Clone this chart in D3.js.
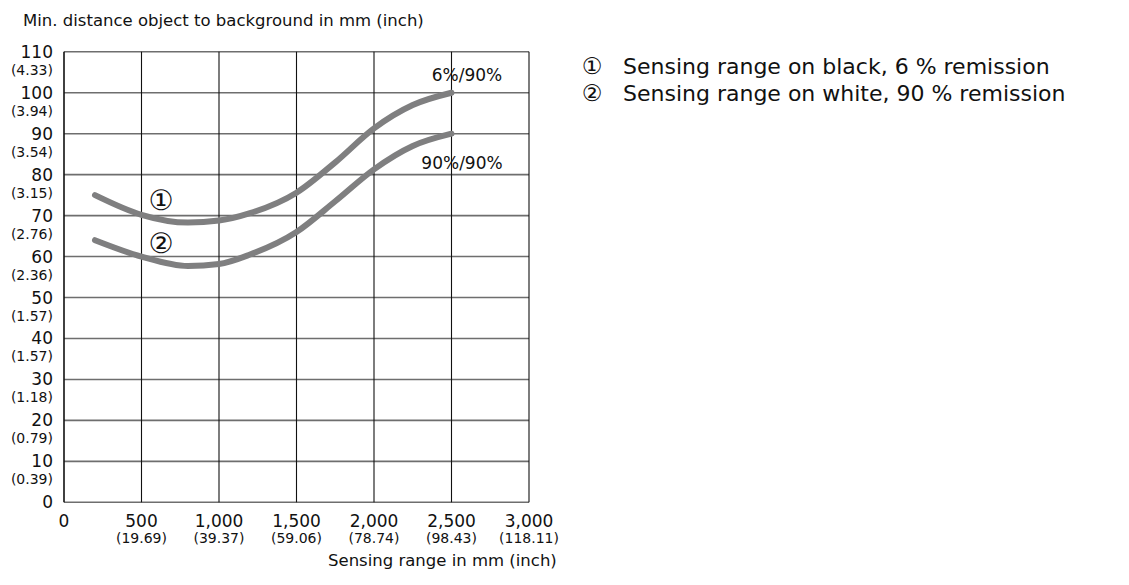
<!DOCTYPE html>
<html lang="en">
<head>
<meta charset="UTF-8">
<title>Min. distance object to background</title>
<script src="https://d3js.org/d3.v7.min.js"></script>
<style>
  body { margin: 0; background: #fff; }
  svg { display: block; font-family: 'DejaVu Sans', sans-serif; }
</style>
</head>
<body>
<div id="chart"></div>
<script>
// Data
const xTicks = [0, 500, 1000, 1500, 2000, 2500, 3000];
const xTickLabels = ["0", "500", "1,000", "1,500", "2,000", "2,500", "3,000"];
const xInchLabels = ["", "(19.69)", "(39.37)", "(59.06)", "(78.74)", "(98.43)", "(118.11)"];

const yTicks = [0, 10, 20, 30, 40, 50, 60, 70, 80, 90, 100, 110];
const yInchLabels = ["", "(0.39)", "(0.79)", "(1.18)", "(1.57)", "(1.57)", "(2.36)", "(2.76)", "(3.15)", "(3.54)", "(3.94)", "(4.33)"];

const rangeMm = [200, 500, 800, 1000, 1200, 1500, 1750, 2000, 2250, 2500];
const blackValues = [75, 70.2, 68.3, 68.8, 70.6, 75.6, 83, 91.3, 97, 100];   // 6 % remission
const whiteValues = [64, 60, 57.7, 58.2, 60.5, 66, 73.5, 81.3, 87, 90];     // 90 % remission

const legendItems = ["Sensing range on black, 6 % remission", "Sensing range on white, 90 % remission"];
const circled = ["\u2460", "\u2461"];

const width = 1129, height = 585;

const svg = d3.select("#chart").append("svg")
    .attr("width", width)
    .attr("height", height);

const x = d3.scaleLinear().domain([0, 3000]).range([64, 529]);
const y = d3.scaleLinear().domain([0, 110]).range([502.3, 51.8]);

// horizontal grid (gray)
svg.append("g").selectAll("line")
    .data(yTicks)
    .join("line")
    .attr("x1", x(0)).attr("x2", x(3000))
    .attr("y1", d => y(d)).attr("y2", d => y(d))
    .attr("stroke", "#6e6e6e")
    .attr("stroke-width", 1.6);

// vertical grid (black)
svg.append("g").selectAll("line")
    .data(xTicks)
    .join("line")
    .attr("x1", d => x(d)).attr("x2", d => x(d))
    .attr("y1", y(0)).attr("y2", y(110))
    .attr("stroke", "#111")
    .attr("stroke-width", d => d === 0 ? 1.6 : 1.1);

// y tick labels
const yLab = svg.append("g").attr("fill", "#111");
yLab.selectAll("text.num")
    .data(yTicks)
    .join("text")
    .attr("class", "num")
    .attr("x", 53)
    .attr("y", d => y(d) + 6)
    .attr("text-anchor", "end")
    .style("font-size", "17px")
    .text(d => d);
yLab.selectAll("text.inch")
    .data(yTicks)
    .join("text")
    .attr("class", "inch")
    .attr("x", 53)
    .attr("y", d => y(d) + 23)
    .attr("text-anchor", "end")
    .style("font-size", "14px")
    .text((d, i) => yInchLabels[i]);

// x tick labels
const xLab = svg.append("g").attr("fill", "#111");
xLab.selectAll("text.num")
    .data(xTicks)
    .join("text")
    .attr("class", "num")
    .attr("x", d => x(d))
    .attr("y", 527)
    .attr("text-anchor", "middle")
    .style("font-size", "17px")
    .text((d, i) => xTickLabels[i]);
xLab.selectAll("text.inch")
    .data(xTicks)
    .join("text")
    .attr("class", "inch")
    .attr("x", d => x(d))
    .attr("y", 543)
    .attr("text-anchor", "middle")
    .style("font-size", "14px")
    .text((d, i) => xInchLabels[i]);

// axis titles
svg.append("text")
    .attr("x", 23).attr("y", 26)
    .style("font-size", "16.5px")
    .attr("fill", "#111")
    .text("Min. distance object to background in mm (inch)");
svg.append("text")
    .attr("x", 328).attr("y", 566)
    .style("font-size", "16.5px")
    .attr("fill", "#111")
    .text("Sensing range in mm (inch)");

// curves
const line = d3.line()
    .x(d => x(d[0]))
    .y(d => y(d[1]))
    .curve(d3.curveMonotoneX);

const series = [blackValues, whiteValues];
svg.append("g").selectAll("path")
    .data(series)
    .join("path")
    .attr("d", vals => line(rangeMm.map((r, i) => [r, vals[i]])))
    .attr("fill", "none")
    .attr("stroke", "#7f7f80")
    .attr("stroke-width", 6)
    .attr("stroke-linecap", "round");

// curve end labels
svg.append("text")
    .attr("x", 467).attr("y", 81)
    .attr("text-anchor", "middle")
    .style("font-size", "17px")
    .attr("fill", "#111")
    .text("6%/90%");
svg.append("text")
    .attr("x", 462).attr("y", 169)
    .attr("text-anchor", "middle")
    .style("font-size", "17px")
    .attr("fill", "#111")
    .text("90%/90%");

// circled markers inside plot
svg.append("g").selectAll("text")
    .data(circled)
    .join("text")
    .attr("x", 161)
    .attr("y", (d, i) => (i === 0 ? 200 : 243) + 10)
    .attr("text-anchor", "middle")
    .style("font-size", "28px")
    .attr("fill", "#111")
    .text(d => d);

// legend
const legend = svg.append("g").attr("fill", "#111");
legend.selectAll("text.mark")
    .data(circled)
    .join("text")
    .attr("class", "mark")
    .attr("x", 592)
    .attr("y", (d, i) => 74 + i * 27)
    .attr("text-anchor", "middle")
    .style("font-size", "23px")
    .text(d => d);
legend.selectAll("text.item")
    .data(legendItems)
    .join("text")
    .attr("class", "item")
    .attr("x", 623)
    .attr("y", (d, i) => 74 + i * 27)
    .style("font-size", "22px")
    .text(d => d);
</script>
</body>
</html>
